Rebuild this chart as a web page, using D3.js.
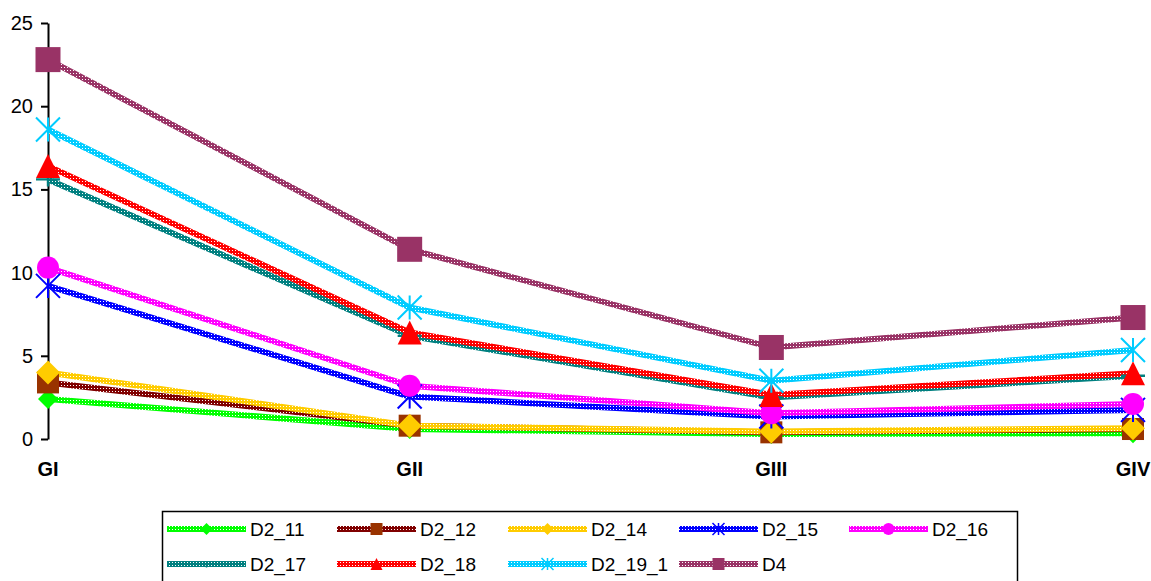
<!DOCTYPE html>
<html><head><meta charset="utf-8">
<script src="https://cdn.jsdelivr.net/npm/d3@7"></script>
<style>body{margin:0;background:#fff;}svg{display:block;font-family:"Liberation Sans",Arial,sans-serif;}</style>
</head><body>
<svg id="c" width="1151" height="581"></svg>
<script>
const categories = ["GI", "GII", "GIII", "GIV"];
const seriesNames = ["D2_11", "D2_12", "D2_14", "D2_15", "D2_16", "D2_17", "D2_18", "D2_19_1", "D4"];
const D2_11 = [2.4, 0.6, 0.3, 0.35];
const D2_12 = [3.4, 0.8, 0.4, 0.6];
const D2_14 = [4.0, 0.8, 0.45, 0.65];
const D2_15 = [9.2, 2.55, 1.35, 1.75];
const D2_16 = [10.3, 3.2, 1.55, 2.1];
const D2_17 = [15.6, 6.2, 2.5, 3.8];
const D2_18 = [16.4, 6.4, 2.65, 3.95];
const D2_19_1 = [18.6, 7.9, 3.5, 5.35];
const D4 = [22.8, 11.4, 5.5, 7.3];
const yTicks = [0, 5, 10, 15, 20, 25];

const values = [D2_11, D2_12, D2_14, D2_15, D2_16, D2_17, D2_18, D2_19_1, D4];
const lineColors = ["#00FF00", "#800000", "#FFCC00", "#0000FF", "#FF00FF", "#008080", "#FF0000", "#00CCFF", "#993366"];
const markerColors = ["#00FF00", "#993300", "#FFCC00", "#0000FF", "#FF00FF", "#008080", "#FF0000", "#00CCFF", "#993366"];
const shapes = ["diamond", "square", "diamond", "star", "circle", "plus", "triangle", "star", "square"];
const sizes = [20, 22, 24, 24, 22, 24, 24, 24, 25];

const svg = d3.select("#c");
const defs = svg.append("defs");
lineColors.forEach((c, i) => {
  const p = defs.append("pattern").attr("id", "pat" + i).attr("patternUnits", "userSpaceOnUse")
    .attr("width", 3).attr("height", 3);
  p.append("rect").attr("width", 3).attr("height", 3).attr("fill", c);
  p.append("rect").attr("x", 1).attr("y", 1).attr("width", 1).attr("height", 1).attr("fill", "#fff");
});

const x = d3.scalePoint().domain(categories).range([48, 1133]);
const y = d3.scaleLinear().domain([0, 25]).range([439, 23]);

// y axis
const yAxis = d3.axisLeft(y).tickValues(yTicks).tickSize(7).tickPadding(8).tickSizeOuter(0);
const ga = svg.append("g").attr("transform", "translate(48,0)").call(yAxis);
ga.select(".domain").attr("stroke", "#000").attr("stroke-width", 2);
ga.selectAll(".tick line").attr("stroke", "#000").attr("stroke-width", 2);
ga.selectAll(".tick text").attr("font-size", 20).attr("fill", "#000")
  .attr("font-family", "'Liberation Sans', Arial, sans-serif");

// category labels
svg.append("g").selectAll("text").data(categories).join("text")
  .attr("x", d => x(d)).attr("y", 476).attr("text-anchor", "middle")
  .attr("font-size", 20).attr("font-weight", "bold").text(d => d);

function marker(g, shape, s, color) {
  const h = s / 2;
  if (shape === "square") g.append("rect").attr("x", -h).attr("y", -h).attr("width", s).attr("height", s).attr("fill", color);
  else if (shape === "diamond") g.append("path").attr("d", `M0,${-h}L${h},0L0,${h}L${-h},0Z`).attr("fill", color);
  else if (shape === "circle") g.append("circle").attr("r", h).attr("fill", color);
  else if (shape === "triangle") g.append("path").attr("d", `M0,${-h}L${h},${h}L${-h},${h}Z`).attr("fill", color);
  else if (shape === "star") g.append("path").attr("d", `M${-h},${-h}L${h},${h}M${-h},${h}L${h},${-h}M0,${-h}L0,${h}`)
    .attr("stroke", color).attr("stroke-width", Math.max(1.5, s / 12)).attr("fill", "none");
  else if (shape === "plus") g.append("path").attr("d", `M${-h},0L${h},0M0,${-h * 0.2}L0,${h * 0.6}`)
    .attr("stroke", color).attr("stroke-width", Math.max(1.5, s / 10)).attr("fill", "none");
}

const line = d3.line().x((d, i) => x(categories[i])).y(d => y(d));
values.forEach((vals, i) => {
  svg.append("path").attr("d", line(vals)).attr("fill", "none")
    .attr("stroke", `url(#pat${i})`).attr("stroke-width", 6).attr("stroke-linejoin", "round");
});
values.forEach((vals, i) => {
  vals.forEach((v, j) => {
    const g = svg.append("g").attr("transform", `translate(${x(categories[j])},${y(v)})`);
    marker(g, shapes[i], sizes[i], markerColors[i]);
  });
});

// legend
const lg = svg.append("g");
lg.append("rect").attr("x", 162.5).attr("y", 511.5).attr("width", 855).attr("height", 90)
  .attr("fill", "#fff").attr("stroke", "#000").attr("stroke-width", 1.5);
const colX = [167, 337, 508, 679, 849];
const rowY = [529, 564];
seriesNames.forEach((n, i) => {
  const cx = colX[i % 5], cy = rowY[Math.floor(i / 5)];
  const g = lg.append("g");
  g.append("path").attr("d", `M${cx},${cy}L${cx + 79},${cy}`).attr("stroke", `url(#pat${i})`).attr("stroke-width", 6);
  const m = g.append("g").attr("transform", `translate(${cx + 39.5},${cy})`);
  marker(m, shapes[i], 12, markerColors[i]);
  g.append("text").attr("x", cx + 83).attr("y", cy + 7).attr("font-size", 19).attr("fill", "#000").text(n);
});
</script>
</body></html>
